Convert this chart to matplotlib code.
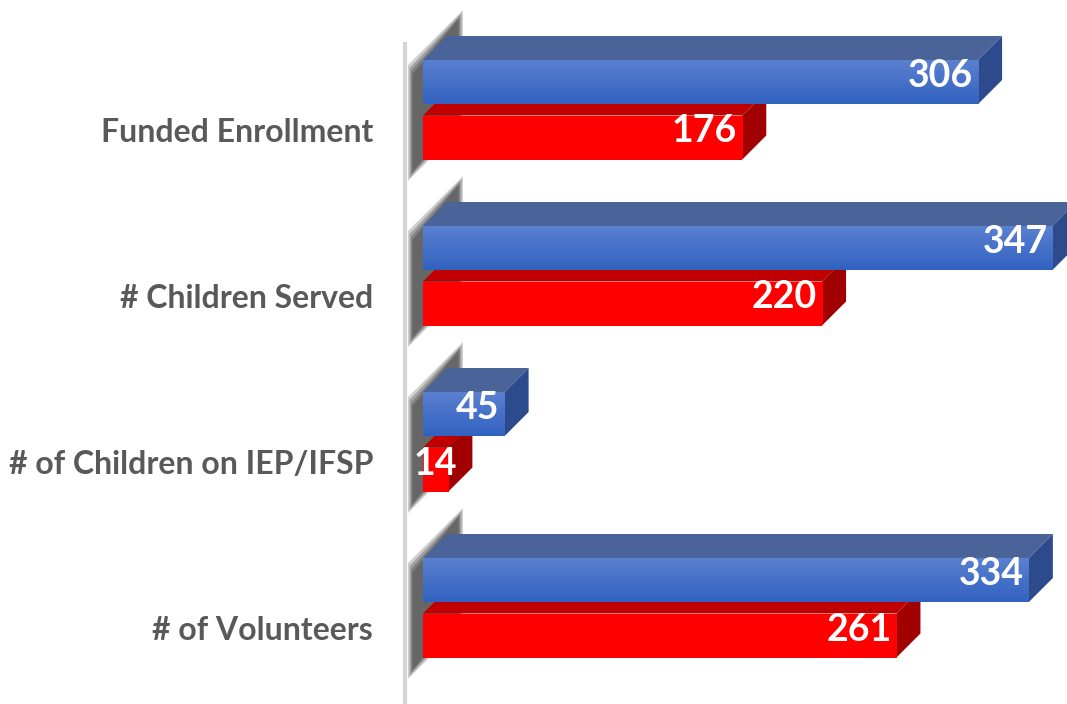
import numpy as np
import matplotlib.pyplot as plt
from matplotlib.patches import Polygon
from matplotlib.colors import LinearSegmentedColormap

# chart data
categories = ["Funded Enrollment", "# Children Served",
              "# of Children on IEP/IFSP", "# of Volunteers"]
blue_vals = [306, 347, 45, 334]
red_vals = [176, 220, 14, 261]

# pixel scale of the axes (value units / category units)
PX = 1.814   # px per value unit
PY = 166.0   # px per category
W, H = 1067, 704
X0, Y0 = 423, 130   # pixel of value 0 / first category

DX = 24 / PX      # 3d depth in x
DY = 24 / PY      # 3d depth in y
BH = 44 / PY      # bar front height
OFF_B = -48 / PY  # blue bar center relative to category
OFF_R = 7.5 / PY  # red bar center relative to category

plt.rcParams['font.family'] = ['Lato', 'DejaVu Sans']

fig = plt.figure(figsize=(W / 100, H / 100), dpi=100)
ax = fig.add_axes([380 / W, 0, 1 - 380 / W, 1])
ax.set_xlim((380 - X0) / PX, (W - X0) / PX)
ax.set_ylim((H - Y0) / PY, -Y0 / PY)


def px(x, y, i):
    # pixel offsets (relative to bar origin of group i) -> data coords
    return ((x - X0) / PX, (y - Y0) / PY + i)


def bar3d(y, v, front, top, side, grad):
    ytop = y - BH / 2
    ybot = y + BH / 2
    ax.add_patch(Polygon([(0, ytop), (v, ytop), (v + DX, ytop - DY), (DX, ytop - DY)],
                         closed=True, fc=top, ec='none', zorder=3))
    ax.add_patch(Polygon([(v, ytop), (v, ybot), (v + DX, ybot - DY), (v + DX, ytop - DY)],
                         closed=True, fc=side, ec='none', zorder=3))
    b = ax.barh([y], [v], height=BH, color=front, zorder=4)[0]
    cmap = LinearSegmentedColormap.from_list('g', grad)
    im = ax.imshow(np.linspace(0, 1, 50).reshape(-1, 1), cmap=cmap, aspect='auto',
                   extent=[0, v, ybot, ytop], origin='upper', zorder=4.5)
    im.set_clip_path(b)


# wall edge line
ax.vlines((405 - X0) / PX, (42 - Y0) / PY, (H - Y0) / PY, color='#d4d4d4', lw=3, zorder=1)

# shadows of the bar groups on the wall
for i in range(len(categories)):
    for k, a in zip([0, 3, 6, 9], [0.25, 0.3, 0.35, 0.4]):
        pts = [px(463 - k / 2, 10 + k, i), px(463 - k / 2, 126 - k, i),
               px(408 + k / 2, 181 - k, i), px(408 + k / 2, 65 + k, i)]
        ax.add_patch(Polygon(pts, closed=True, fc='#404040', ec='none', alpha=a, zorder=2))

for i in range(len(categories)):
    yb = i + OFF_B
    yr = i + OFF_R
    bar3d(yr, red_vals[i], '#ff0000', '#c00000', '#a00000', ['#ff0000', '#ff0000'])
    bar3d(yb, blue_vals[i], '#4472c4', '#4a6399', '#2c4a8c', ['#5a80d0', '#3262c0'])
    for y, v in [(yb, blue_vals[i]), (yr, red_vals[i])]:
        if v < 30:
            ax.text(v / 2, y - 6 / PY, str(v), ha='center', va='center', color='white',
                    fontsize=27, fontweight='bold', zorder=6)
        else:
            ax.text(v - 5 / PX, y - 6 / PY, str(v), ha='right', va='center', color='white',
                    fontsize=27, fontweight='bold', zorder=6)

ax.set_yticks(range(len(categories)))
ax.set_yticklabels(categories, fontsize=23, fontweight='bold', color='#595959')
ax.tick_params(axis='y', length=0, pad=5)
ax.set_xticks([])
for s in ax.spines.values():
    s.set_visible(False)

fig.savefig("out.png", dpi=100)
